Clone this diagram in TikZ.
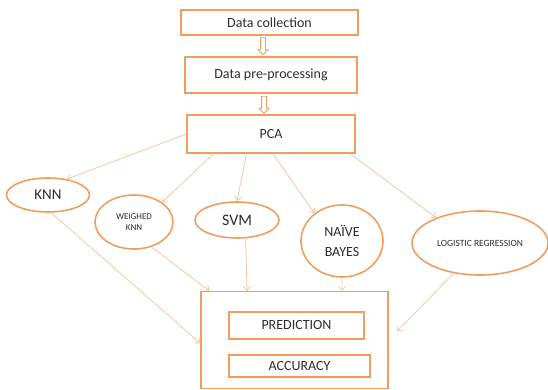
\documentclass[tikz,border=0pt]{standalone}
\usepackage{fontspec}
\setmainfont{Carlito}
\usepackage{tikz}
\usetikzlibrary{shapes.geometric,shapes.arrows,arrows.meta}
\definecolor{boxorange}{RGB}{240,158,95}
\definecolor{lineorange}{RGB}{245,198,162}
\definecolor{textgray}{RGB}{45,45,45}

\begin{document}
\begin{tikzpicture}[x=1pt,y=-1pt,
    font=\fontsize{14}{16}\selectfont,
    stepbox/.style={draw=boxorange, line width=1.6pt, inner sep=0pt, text=textgray},
    method/.style={ellipse, draw=boxorange, line width=1.6pt, inner sep=0pt, align=center, text=textgray},
    flow/.style={draw=lineorange, line width=0.8pt, -{Straight Barb[length=4pt,width=7pt]}},
    hollow/.style={single arrow, draw=boxorange, line width=0.9pt, rotate=-90,
      minimum height=17pt, inner sep=2pt, single arrow head extend=2.5pt,
      single arrow head indent=0pt}]
  \useasboundingbox (0,0) rectangle (548,390);

  % Draw the pipeline boxes
  \node[stepbox, minimum width=177pt, minimum height=25pt] (collect) at (269.5,22.5) {Data collection};
  \node[stepbox, minimum width=172pt, minimum height=36pt] (prep) at (271,75) {Data pre-processing};
  \node[stepbox, minimum width=168pt, minimum height=38pt] (pca) at (271,134) {PCA};

  % Draw the hollow arrows between the boxes
  \node[hollow] (arr1) at (263,45) {};
  \node[hollow] (arr2) at (264,103.5) {};

  % Draw the classifiers
  \node[method, minimum width=83pt, minimum height=34pt, font=\fontsize{15}{17}\selectfont] (knn) at (48,195) {KNN};
  \node[method, minimum width=78pt, minimum height=54pt, font=\fontsize{9}{11.5}\selectfont] (wknn) at (134,222) {WEIGHED\\KNN};
  \node[method, minimum width=84pt, minimum height=36pt, font=\fontsize{16}{18}\selectfont] (svm) at (237,220) {SVM};
  \node[method, minimum width=82pt, minimum height=72pt, font=\fontsize{14}{20}\selectfont] (nb) at (342,241) {NAÏVE\\BAYES};
  \node[method, minimum width=136pt, minimum height=64pt, font=\fontsize{9.5}{11}\selectfont] (lr) at (480,243) {LOGISTIC REGRESSION};

  % Draw the result box
  \node[stepbox, line width=1.3pt, minimum width=187pt, minimum height=97pt] (res) at (294.5,340) {};
  \node[stepbox, minimum width=135pt, minimum height=27pt] (pred) at (296.5,325.5) {PREDICTION};
  \node[stepbox, minimum width=141pt, minimum height=22pt] (acc) at (299.5,366) {ACCURACY};

  % Draw edges from PCA to each classifier
  \foreach \a/\b in {pca.west/knn.40, pca.-161/wknn.35, pca.-141/svm.north, pca.-84/nb.135, pca.-14/lr.150}
    \draw[flow] (\a) -- (\b);

  % Draw edges from each classifier to the result box
  \foreach \a/\b in {knn.-80/res.182, wknn.-55/res.150, svm.-65/res.134, nb.south/res.46}
    \draw[flow] (\a) -- (\b);
  \draw[flow, shorten >=12pt] (lr.-131) -- (res.east);
\end{tikzpicture}
\end{document}
